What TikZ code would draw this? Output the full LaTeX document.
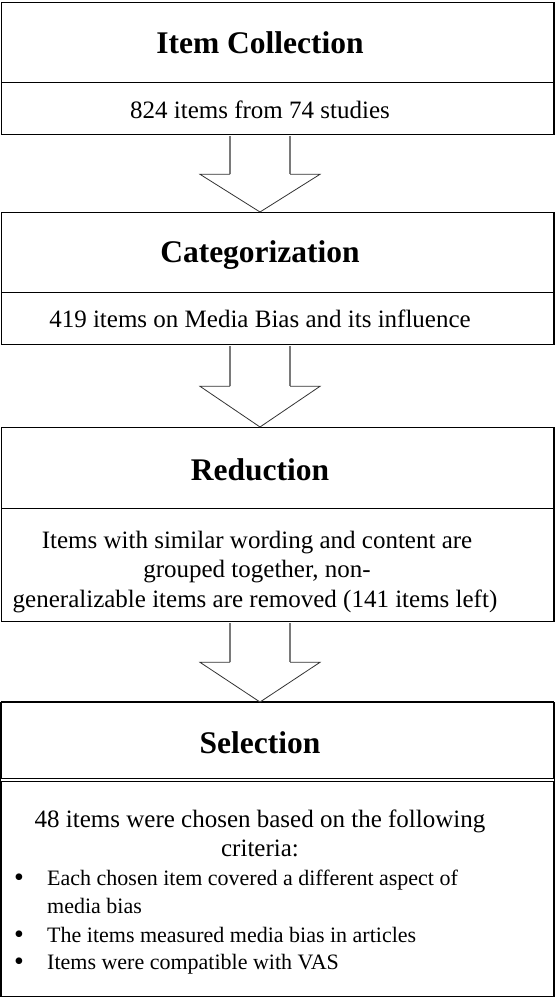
\documentclass[tikz,border=0pt]{standalone}
\usepackage{fontspec}
\setmainfont{Liberation Serif}
\usetikzlibrary{calc}
\definecolor{arrowgray}{HTML}{7A7A7A}
\definecolor{headgray}{HTML}{333333}
\begin{document}
\begin{tikzpicture}[x=1pt,y=-1pt,
 sec/.style={draw=black,line width=1.3pt,minimum width=552.6pt,inner sep=0pt,anchor=north west},
 ttl/.style={anchor=base,font=\fontsize{31.5}{36}\selectfont\bfseries,inner sep=0pt},
 txt/.style={anchor=base,font=\fontsize{25}{30}\selectfont,inner sep=0pt},
 itm/.style={anchor=base west,font=\fontsize{22}{28}\selectfont,inner sep=0pt},
 bul/.style={anchor=base,font=\fontsize{28}{30}\selectfont,inner sep=0pt},
 arrowhead/.style={draw=headgray,line width=0.8pt,fill=white,line join=miter},
 arrowshaft/.style={draw=arrowgray,line width=1.2pt}]
\useasboundingbox (0,0) rectangle (554,998);
% boxes
\node[sec,minimum height=80pt] (s1t) at (0.7,2) {};
\node[sec,minimum height=52pt] (s1b) at (0.7,82) {};
\node[sec,minimum height=80pt] (s2t) at (0.7,212) {};
\node[sec,minimum height=52pt] (s2b) at (0.7,292) {};
\node[sec,minimum height=81pt] (s3t) at (0.7,427) {};
\node[sec,minimum height=113pt] (s3b) at (0.7,508) {};
\node[sec,minimum height=76pt,line width=1pt] (s4t) at (0.7,702) {};
\node[sec,minimum height=215.5pt,line width=1pt] (s4b) at (0.7,780.5) {};
\draw[line width=1.3pt] (s4t.north west) -- (s4b.south west);
\draw[line width=1.3pt] (s4t.north east) -- (s4b.south east);
\draw[line width=1.3pt] (s4t.north west) -- (s4t.north east);
% texts
\node[ttl] (h1) at (260,53) {Item Collection};
\node[txt] (p1) at (260,118) {824 items from 74 studies};
\node[ttl] (h2) at (260,262) {Categorization};
\node[txt] (p2) at (260,327) {419 items on Media Bias and its influence};
\node[ttl] (h3) at (260,480) {Reduction};
\node[txt] (p3a) at (257,548) {Items with similar wording and content are};
\node[txt] (p3b) at (257,577.5) {grouped together, non-};
\node[txt] (p3c) at (255,607) {generalizable items are removed (141 items left)};
\node[ttl] (h4) at (260,753) {Selection};
\node[txt] (p4a) at (260,827) {48 items were chosen based on the following};
\node[txt] (p4b) at (260,856) {criteria:};
\node[bul] (d1) at (19,886) {\textbullet};
\node[itm] (i1) at (47,885) {Each chosen item covered a different aspect of};
\node[itm] (i1b) at (47,913) {media bias};
\node[bul] (d2) at (19,943) {\textbullet};
\node[itm] (i2) at (47,942) {The items measured media bias in articles};
\node[bul] (d3) at (19,970) {\textbullet};
\node[itm] (i3) at (47,969) {Items were compatible with VAS};
% block arrows
\foreach \a/\b/\s in {s1b/s2t/39,s2b/s3t/41,s3b/s4t/40}{
  \fill[white] ($(\a.south west)+(229.3,0)$) rectangle ($(\a.south west)+(289.3,\s)$);
  \draw[arrowshaft] ($(\a.south west)+(229.3,0.7)$) -- ($(\a.south west)+(229.3,\s)$);
  \draw[arrowshaft] ($(\a.south west)+(289.3,0.7)$) -- ($(\a.south west)+(289.3,\s)$);
  \draw[arrowhead] ($(\a.south west)+(229.3,\s)$) -- ($(\a.south west)+(199.3,\s)$)
    -- ($(\b.north west)+(259.3,0)$) -- ($(\a.south west)+(319.3,\s)$) -- ($(\a.south west)+(289.3,\s)$);
}
\end{tikzpicture}
\end{document}
